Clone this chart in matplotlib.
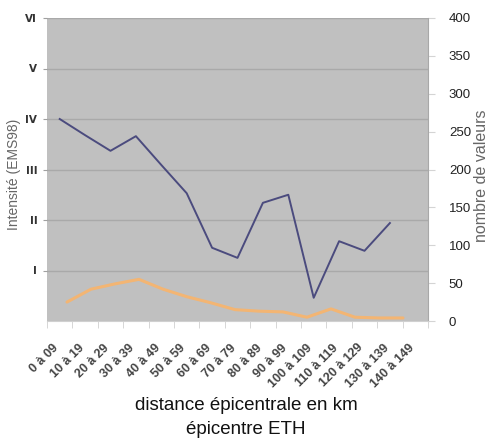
"""Intensité EMS98 et nombre de valeurs par tranche de distance épicentrale."""

import matplotlib
matplotlib.use("Agg")
import matplotlib.pyplot as plt
import matplotlib.transforms as mtransforms
import numpy as np

CATEGORIES = ["0 à 09", "10 à 19", "20 à 29", "30 à 39", "40 à 49", "50 à 59",
              "60 à 69", "70 à 79", "80 à 89", "90 à 99", "100 à 109",
              "110 à 119", "120 à 129", "130 à 139", "140 à 149"]
INTENSITY = [4.0, 3.68, 3.37, 3.66, 3.09, 2.53, 1.45, 1.25, 2.34, 2.5,
             0.46, 1.58, 1.39, 1.94, np.nan]
N_VALUES = [25, 42, 49, 55, 42, 32, 24, 15, 13, 12, 5, 16, 5, 4, 4]
ROMAN = ["I", "II", "III", "IV", "V", "VI"]
RIGHT_TICKS = [0, 50, 100, 150, 200, 250, 300, 350, 400]

FONT = "Liberation Sans"
BG = "#c0c0c0"
BLUE = "#4b4b7e"
ORANGE = "#f3b573"

fig = plt.figure(figsize=(4.91, 4.42), dpi=100)
pos = [47 / 491, 1 - 321 / 442, 381 / 491, 303 / 442]

# --- nombre de valeurs (right axis, own x extent) ---
ax_n = fig.add_axes(pos, facecolor=BG)
x = np.arange(len(CATEGORIES))
ax_n.plot(x, N_VALUES, color=ORANGE, linewidth=2.2, solid_capstyle="round",
          solid_joinstyle="round")
ax_n.set_xlim(-20 / 24, 14 + 25 / 24)
ax_n.set_ylim(0, 400)
ax_n.xaxis.set_visible(False)
ax_n.yaxis.tick_right()
ax_n.set_yticks(RIGHT_TICKS)
ax_n.set_yticklabels([str(t) for t in RIGHT_TICKS], family=FONT,
                     fontsize=9.5, color="#222222")
ax_n.tick_params(axis="y", length=5, color="#d4d4d4", pad=10)
for s in ["top", "left", "bottom"]:
    ax_n.spines[s].set_visible(False)
ax_n.spines["right"].set_color("#a8a8a8")

# --- intensité (left axis, categories) ---
ax = fig.add_axes(pos, facecolor="none")
ax.plot(x, INTENSITY, color=BLUE, linewidth=1.4)
ax.set_xlim(-0.5, len(CATEGORIES) - 0.5)
ax.set_ylim(0, 6)
ax.set_yticks(range(1, 7))
ax.set_yticklabels(ROMAN, fontsize=7.5, fontweight="bold", color="#333333")
ax.tick_params(axis="y", length=3, color="#a0a0a0", pad=4)
ax.grid(axis="y", color="#a9a9a9", linewidth=1.0)
ax.set_axisbelow(True)

ax.set_xticks(x)
ax.set_xticklabels(CATEGORIES, rotation=45, ha="right", va="center",
                   rotation_mode="anchor", family=FONT, fontsize=9,
                   fontweight="bold", color="#444444")
ax.tick_params(axis="x", length=0, pad=18)
shift = mtransforms.ScaledTranslation(-3 / 100, 0, fig.dpi_scale_trans)
for lbl in ax.get_xticklabels():
    lbl.set_transform(lbl.get_transform() + shift)
ax.set_xticks(np.arange(-0.5, len(CATEGORIES)), minor=True)
ax.tick_params(axis="x", which="minor", length=5, color="#d0d0d0")
for s in ["top", "left", "right"]:
    ax.spines[s].set_visible(False)
ax.spines["bottom"].set_color("#d0d0d0")

# axis titles
fig.text(14 / 491, 1 - 174 / 442, "Intensité (EMS98)", rotation=90,
         ha="center", va="center", family=FONT, fontsize=10, color="#666666")
fig.text(482 / 491, 1 - 176 / 442, "nombre de valeurs", rotation=90,
         ha="center", va="center", family=FONT, fontsize=11.5, color="#666666")
fig.text(246 / 491, 1 - 406 / 442, "distance épicentrale en km",
         ha="center", va="center", family=FONT, fontsize=13.5, color="#111111")
fig.text(246 / 491, 1 - 430 / 442, "épicentre ETH",
         ha="center", va="center", family=FONT, fontsize=13.5, color="#111111")

fig.savefig("out.png", dpi=100)
